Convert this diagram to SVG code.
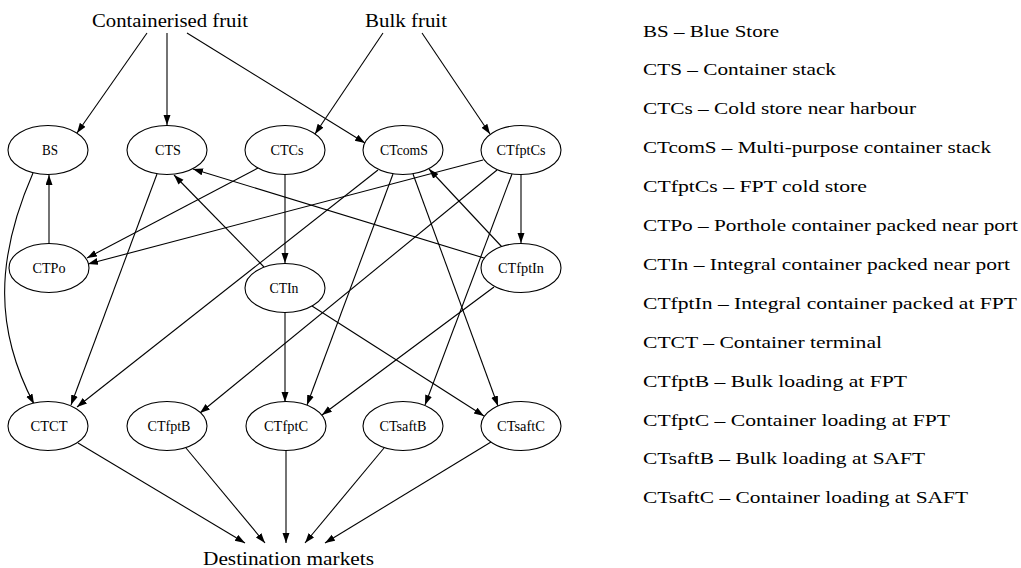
<svg xmlns="http://www.w3.org/2000/svg" width="1021" height="568" viewBox="0 0 1021 568" font-family="'Liberation Serif', serif">
<style>
.title { font-family: 'Liberation Serif', 'Times New Roman', serif; font-size: 19px; text-anchor: middle; fill: #000; }
.lbl { font-family: 'Liberation Serif', 'Times New Roman', serif; font-size: 14px; text-anchor: middle; fill: #000; }
.leg { font-family: 'Liberation Serif', 'Times New Roman', serif; font-size: 17.5px; fill: #000; }
ellipse { fill: #fff; stroke: #000; stroke-width: 1.1; }
#edges path, #edges line { fill: none; stroke: #000; stroke-width: 1.1; marker-end: url(#arr); }
</style>
<defs>
<marker id="arr" markerUnits="userSpaceOnUse" markerWidth="11" markerHeight="8" refX="10" refY="3.5" orient="auto">
<path d="M0,0 L10,3.5 L0,7 z" fill="#000"/>
</marker>
</defs>
<rect width="1021" height="568" fill="#fff"/>
<g id="edges">
<line x1="147" y1="33" x2="77" y2="133"/>
<line x1="167" y1="33" x2="167" y2="125"/>
<line x1="187" y1="33" x2="365" y2="143"/>
<line x1="383" y1="33" x2="315" y2="134"/>
<line x1="422" y1="33" x2="490" y2="134"/>
<path d="M33,173 C-5,260 -5,330 34,404"/>
<line x1="49" y1="243" x2="49" y2="175"/>
<line x1="157" y1="174" x2="71" y2="405"/>
<line x1="258" y1="168" x2="87" y2="258"/>
<line x1="483" y1="160" x2="88" y2="264"/>
<line x1="285" y1="175" x2="285" y2="263"/>
<line x1="264" y1="267" x2="174" y2="175"/>
<line x1="484" y1="258" x2="193" y2="169"/>
<line x1="378" y1="170" x2="77" y2="407"/>
<line x1="393" y1="174" x2="307" y2="405"/>
<line x1="413" y1="174" x2="498" y2="406"/>
<line x1="502" y1="247" x2="429" y2="169"/>
<line x1="521" y1="175" x2="521" y2="243"/>
<line x1="497" y1="170" x2="200" y2="413"/>
<line x1="512" y1="174" x2="425" y2="405"/>
<line x1="285" y1="313" x2="285" y2="402"/>
<line x1="312" y1="306" x2="484" y2="416"/>
<line x1="494" y1="287" x2="322" y2="415"/>
<line x1="78" y1="443" x2="245" y2="543"/>
<line x1="186" y1="448" x2="265" y2="543"/>
<line x1="286" y1="450" x2="286" y2="543"/>
<line x1="384" y1="448" x2="305" y2="543"/>
<line x1="491" y1="442" x2="325" y2="543"/>
</g>
<g id="containerised-fruit"><text class="title" x="170" y="27" textLength="156" lengthAdjust="spacingAndGlyphs">Containerised fruit</text></g>
<g id="bulk-fruit"><text class="title" x="406" y="27" textLength="82" lengthAdjust="spacingAndGlyphs">Bulk fruit</text></g>
<g id="destination-markets"><text class="title" x="288.5" y="565" textLength="171" lengthAdjust="spacingAndGlyphs">Destination markets</text></g>
<g id="BS"><ellipse cx="48" cy="150" rx="40" ry="24.5"/><text class="lbl" x="50" y="155" textLength="16" lengthAdjust="spacingAndGlyphs">BS</text></g>
<g id="CTS"><ellipse cx="167" cy="150" rx="40" ry="24.5"/><text class="lbl" x="168" y="155" textLength="26" lengthAdjust="spacingAndGlyphs">CTS</text></g>
<g id="CTCs"><ellipse cx="285" cy="150" rx="40" ry="24.5"/><text class="lbl" x="287" y="155" textLength="33" lengthAdjust="spacingAndGlyphs">CTCs</text></g>
<g id="CTcomS"><ellipse cx="403" cy="150" rx="40" ry="24.5"/><text class="lbl" x="404" y="155" textLength="48" lengthAdjust="spacingAndGlyphs">CTcomS</text></g>
<g id="CTfptCs"><ellipse cx="521" cy="150" rx="40" ry="24.5"/><text class="lbl" x="521" y="155" textLength="49" lengthAdjust="spacingAndGlyphs">CTfptCs</text></g>
<g id="CTPo"><ellipse cx="49" cy="268" rx="40" ry="24.5"/><text class="lbl" x="49" y="273" textLength="33" lengthAdjust="spacingAndGlyphs">CTPo</text></g>
<g id="CTIn"><ellipse cx="285" cy="288" rx="40" ry="24.5"/><text class="lbl" x="284" y="293" textLength="29" lengthAdjust="spacingAndGlyphs">CTIn</text></g>
<g id="CTfptIn"><ellipse cx="521" cy="268" rx="40" ry="24.5"/><text class="lbl" x="521" y="273" textLength="46" lengthAdjust="spacingAndGlyphs">CTfptIn</text></g>
<g id="CTCT"><ellipse cx="48" cy="426" rx="40" ry="24.5"/><text class="lbl" x="49" y="431" textLength="37" lengthAdjust="spacingAndGlyphs">CTCT</text></g>
<g id="CTfptB"><ellipse cx="167" cy="426" rx="40" ry="24.5"/><text class="lbl" x="169" y="431" textLength="43" lengthAdjust="spacingAndGlyphs">CTfptB</text></g>
<g id="CTfptC"><ellipse cx="286" cy="426" rx="40" ry="24.5"/><text class="lbl" x="286" y="431" textLength="44" lengthAdjust="spacingAndGlyphs">CTfptC</text></g>
<g id="CTsaftB"><ellipse cx="403" cy="426" rx="40" ry="24.5"/><text class="lbl" x="403" y="431" textLength="47" lengthAdjust="spacingAndGlyphs">CTsaftB</text></g>
<g id="CTsaftC"><ellipse cx="521" cy="426" rx="40" ry="24.5"/><text class="lbl" x="521" y="431" textLength="48" lengthAdjust="spacingAndGlyphs">CTsaftC</text></g>
<g id="legend">
<text class="leg" x="643" y="36.5" textLength="136" lengthAdjust="spacingAndGlyphs">BS – Blue Store</text>
<text class="leg" x="643" y="75.4" textLength="193" lengthAdjust="spacingAndGlyphs">CTS – Container stack</text>
<text class="leg" x="643" y="114.3" textLength="273" lengthAdjust="spacingAndGlyphs">CTCs – Cold store near harbour</text>
<text class="leg" x="643" y="153.2" textLength="348" lengthAdjust="spacingAndGlyphs">CTcomS – Multi-purpose container stack</text>
<text class="leg" x="643" y="192.1" textLength="224" lengthAdjust="spacingAndGlyphs">CTfptCs – FPT cold store</text>
<text class="leg" x="643" y="231" textLength="375" lengthAdjust="spacingAndGlyphs">CTPo – Porthole container packed near port</text>
<text class="leg" x="643" y="269.9" textLength="367" lengthAdjust="spacingAndGlyphs">CTIn – Integral container packed near port</text>
<text class="leg" x="643" y="308.8" textLength="374" lengthAdjust="spacingAndGlyphs">CTfptIn – Integral container packed at FPT</text>
<text class="leg" x="643" y="347.7" textLength="239" lengthAdjust="spacingAndGlyphs">CTCT – Container terminal</text>
<text class="leg" x="643" y="386.6" textLength="264" lengthAdjust="spacingAndGlyphs">CTfptB – Bulk loading at FPT</text>
<text class="leg" x="643" y="425.5" textLength="307" lengthAdjust="spacingAndGlyphs">CTfptC – Container loading at FPT</text>
<text class="leg" x="643" y="464.4" textLength="282" lengthAdjust="spacingAndGlyphs">CTsaftB – Bulk loading at SAFT</text>
<text class="leg" x="643" y="503.3" textLength="325" lengthAdjust="spacingAndGlyphs">CTsaftC – Container loading at SAFT</text>
</g>
</svg>
